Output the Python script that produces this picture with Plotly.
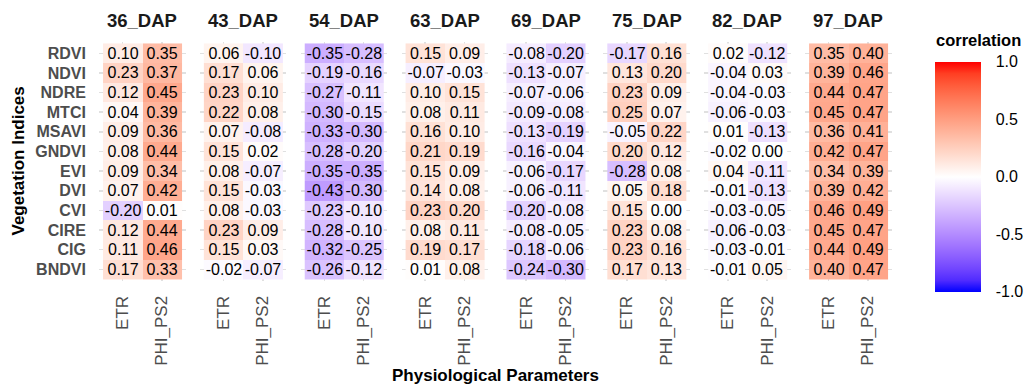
import plotly.graph_objects as go
import numpy as np

# ---------------- data ----------------
indices = ["RDVI", "NDVI", "NDRE", "MTCI", "MSAVI", "GNDVI", "EVI", "DVI", "CVI", "CIRE", "CIG", "BNDVI"]
params = ["ETR", "PHI_PS2"]
daps = ["36_DAP", "43_DAP", "54_DAP", "63_DAP", "69_DAP", "75_DAP", "82_DAP", "97_DAP"]

etr_36 = [0.10, 0.23, 0.12, 0.04, 0.09, 0.08, 0.09, 0.07, -0.20, 0.12, 0.11, 0.17]
phi_36 = [0.35, 0.37, 0.45, 0.39, 0.36, 0.44, 0.34, 0.42, 0.01, 0.44, 0.46, 0.33]
etr_43 = [0.06, 0.17, 0.23, 0.22, 0.07, 0.15, 0.08, 0.15, 0.08, 0.23, 0.15, -0.02]
phi_43 = [-0.10, 0.06, 0.10, 0.08, -0.08, 0.02, -0.07, -0.03, -0.03, 0.09, 0.03, -0.07]
etr_54 = [-0.35, -0.19, -0.27, -0.30, -0.33, -0.28, -0.35, -0.43, -0.23, -0.28, -0.32, -0.26]
phi_54 = [-0.28, -0.16, -0.11, -0.15, -0.30, -0.20, -0.35, -0.30, -0.10, -0.10, -0.25, -0.12]
etr_63 = [0.15, -0.07, 0.10, 0.08, 0.16, 0.21, 0.15, 0.14, 0.23, 0.08, 0.19, 0.01]
phi_63 = [0.09, -0.03, 0.15, 0.11, 0.10, 0.19, 0.09, 0.08, 0.20, 0.11, 0.17, 0.08]
etr_69 = [-0.08, -0.13, -0.07, -0.09, -0.13, -0.16, -0.06, -0.06, -0.20, -0.08, -0.18, -0.24]
phi_69 = [-0.20, -0.07, -0.06, -0.08, -0.19, -0.04, -0.17, -0.11, -0.08, -0.05, -0.06, -0.30]
etr_75 = [-0.17, 0.13, 0.23, 0.25, -0.05, 0.20, -0.28, 0.05, 0.15, 0.23, 0.23, 0.17]
phi_75 = [0.16, 0.20, 0.09, 0.07, 0.22, 0.12, 0.08, 0.18, 0.00, 0.08, 0.16, 0.13]
etr_82 = [0.02, -0.04, -0.04, -0.06, 0.01, -0.02, 0.04, -0.01, -0.03, -0.06, -0.03, -0.01]
phi_82 = [-0.12, 0.03, -0.03, -0.03, -0.13, 0.00, -0.11, -0.13, -0.05, -0.03, -0.01, 0.05]
etr_97 = [0.35, 0.39, 0.44, 0.45, 0.36, 0.42, 0.34, 0.39, 0.46, 0.45, 0.44, 0.40]
phi_97 = [0.40, 0.46, 0.47, 0.47, 0.41, 0.47, 0.39, 0.42, 0.49, 0.47, 0.49, 0.47]

cbar_ticks = [-1.0, -0.5, 0.0, 0.5, 1.0]

etr_all = [etr_36, etr_43, etr_54, etr_63, etr_69, etr_75, etr_82, etr_97]
phi_all = [phi_36, phi_43, phi_54, phi_63, phi_69, phi_75, phi_82, phi_97]

# ---------------- colour scale (Lab interpolation blue-white-red, like ggplot gradient2) ----------------
def srgb_to_lin(c):
    c = c / 255.0
    return np.where(c <= 0.04045, c / 12.92, ((c + 0.055) / 1.055) ** 2.4)

def lin_to_srgb(c):
    c = np.clip(c, 0, 1)
    return np.where(c <= 0.0031308, 12.92 * c, 1.055 * c ** (1 / 2.4) - 0.055) * 255

M = np.array([[0.4124, 0.3576, 0.1805], [0.2126, 0.7152, 0.0722], [0.0193, 0.1192, 0.9505]])
Minv = np.linalg.inv(M)
WP = np.array([0.95047, 1.0, 1.08883])

def to_lab(rgb):
    xyz = M @ srgb_to_lin(np.array(rgb, float)) / WP
    f = np.where(xyz > 216 / 24389, np.cbrt(xyz), (24389 / 27 * xyz + 16) / 116)
    return np.array([116 * f[1] - 16, 500 * (f[0] - f[1]), 200 * (f[1] - f[2])])

def from_lab(lab):
    L, a, b = lab
    fy = (L + 16) / 116
    fx = fy + a / 500
    fz = fy - b / 200
    f = np.array([fx, fy, fz])
    xyz = np.where(f ** 3 > 216 / 24389, f ** 3, (116 * f - 16) / (24389 / 27)) * WP
    rgb = lin_to_srgb(Minv @ xyz)
    return "rgb(%d,%d,%d)" % tuple(np.round(rgb).astype(int))

lab_blue, lab_white, lab_red = to_lab([0, 0, 255]), to_lab([255, 255, 255]), to_lab([255, 0, 0])
colorscale = []
n = 20
for k in range(n + 1):
    t = k / n
    if t <= 0.5:
        lab = lab_blue + (lab_white - lab_blue) * (t / 0.5)
    else:
        lab = lab_white + (lab_red - lab_white) * ((t - 0.5) / 0.5)
    colorscale.append([t, from_lab(lab)])

# ---------------- layout geometry (page body margin removed via post_script) ----------------
W, H = 1028, 387
def px(x):  # pixel from left -> paper fraction
    return x / W
def py(y):  # pixel from top -> paper fraction
    return 1 - y / H

panel_left0 = 99.1
panel_step = 100.86
panel_w = 86.4
panel_top, panel_bot = 41.5, 281.1
FONT = "Liberation Sans, Arial, sans-serif"

cb_left, cb_w, cb_top, cb_bot = 935, 46, 62, 291.5

fig = go.Figure()
for i, dap in enumerate(daps):
    z = [[etr_all[i][r], phi_all[i][r]] for r in range(len(indices))]
    txt = [["%.2f" % v for v in row] for row in z]
    xa = "x" if i == 0 else "x%d" % (i + 1)
    fig.add_trace(go.Heatmap(
        z=z, x=params, y=indices, text=txt, texttemplate="%{text}",
        textfont=dict(size=16, color="black", family=FONT),
        colorscale=colorscale, zmin=-1, zmax=1, xaxis=xa, yaxis="y",
        showscale=(i == 0), xgap=0, ygap=0, hoverinfo="skip",
        colorbar=dict(
            thickness=cb_w, thicknessmode="pixels", len=cb_bot - cb_top, lenmode="pixels",
            x=px(cb_left), xanchor="left", xpad=0, ypad=0,
            y=py(cb_bot), yanchor="bottom", yref="paper",
            outlinewidth=0,
            tickvals=cbar_ticks, ticktext=["%.1f" % v for v in cbar_ticks],
            ticks="outside", ticklen=12, tickcolor="rgba(255,255,255,0)", tickwidth=1,
            tickfont=dict(size=16, color="black", family=FONT),
        ),
    ))
    left = panel_left0 + i * panel_step
    axname = "xaxis" if i == 0 else "xaxis%d" % (i + 1)
    fig.layout[axname] = dict(
        domain=[px(left), px(left + panel_w)], anchor="y",
        range=[-0.6, 1.6], showgrid=True, gridcolor="#E0E0E0", gridwidth=1.5,
        zeroline=False, showline=False, tickangle=-90,
        ticks="outside", ticklen=7, tickcolor="rgba(0,0,0,0)",
        tickfont=dict(size=17, color="#4D4D4D", family=FONT),
        fixedrange=True,
    )
    fig.add_annotation(
        text="<b>%s</b>" % dap, x=px(left + panel_w / 2), y=py(20),
        xref="paper", yref="paper", showarrow=False, xanchor="center", yanchor="middle",
        font=dict(size=18.5, color="#1A1A1A", family=FONT),
    )

fig.update_layout(
    yaxis=dict(
        domain=[py(panel_bot), py(panel_top)], anchor="x",
        range=[11.6, -0.6], showgrid=True, gridcolor="#E0E0E0", gridwidth=1.5,
        zeroline=False, showline=False,
        ticks="outside", ticklen=9, tickcolor="rgba(0,0,0,0)",
        tickfont=dict(size=16, color="#4D4D4D", family=FONT, weight="bold"),
        fixedrange=True,
    ),
    width=W, height=H,
    margin=dict(l=0, r=0, t=0, b=0, autoexpand=False),
    paper_bgcolor="white", plot_bgcolor="white",
    font=dict(family=FONT),
)

# colourbar title and the small white tick marks on the bar (ggplot style)
fig.add_annotation(text="<b>correlation</b>", x=px(934), y=py(40),
                   xref="paper", yref="paper", showarrow=False,
                   xanchor="left", yanchor="middle",
                   font=dict(size=16.5, color="black", family=FONT))
for v in cbar_ticks[1:-1]:
    yy = cb_bot - (v + 1) / 2 * (cb_bot - cb_top)
    for x0, x1 in [(cb_left, cb_left + 9), (cb_left + cb_w - 9, cb_left + cb_w)]:
        fig.add_shape(type="line", xref="paper", yref="paper",
                      x0=px(x0), x1=px(x1), y0=py(yy), y1=py(yy),
                      line=dict(color="white", width=1))

fig.add_annotation(text="<b>Vegetation Indices</b>", x=px(18), y=py(161.5),
                   xref="paper", yref="paper", showarrow=False, textangle=-90,
                   xanchor="center", yanchor="middle",
                   font=dict(size=17, color="black", family=FONT))
fig.add_annotation(text="<b>Physiological Parameters</b>", x=px(495.3), y=py(375),
                   xref="paper", yref="paper", showarrow=False,
                   xanchor="center", yanchor="middle",
                   font=dict(size=17, color="black", family=FONT))

fig.write_html(
    "out.html",
    config={"displayModeBar": False, "staticPlot": True},
    post_script="document.body.style.margin='0';document.body.style.overflow='hidden';",
)
